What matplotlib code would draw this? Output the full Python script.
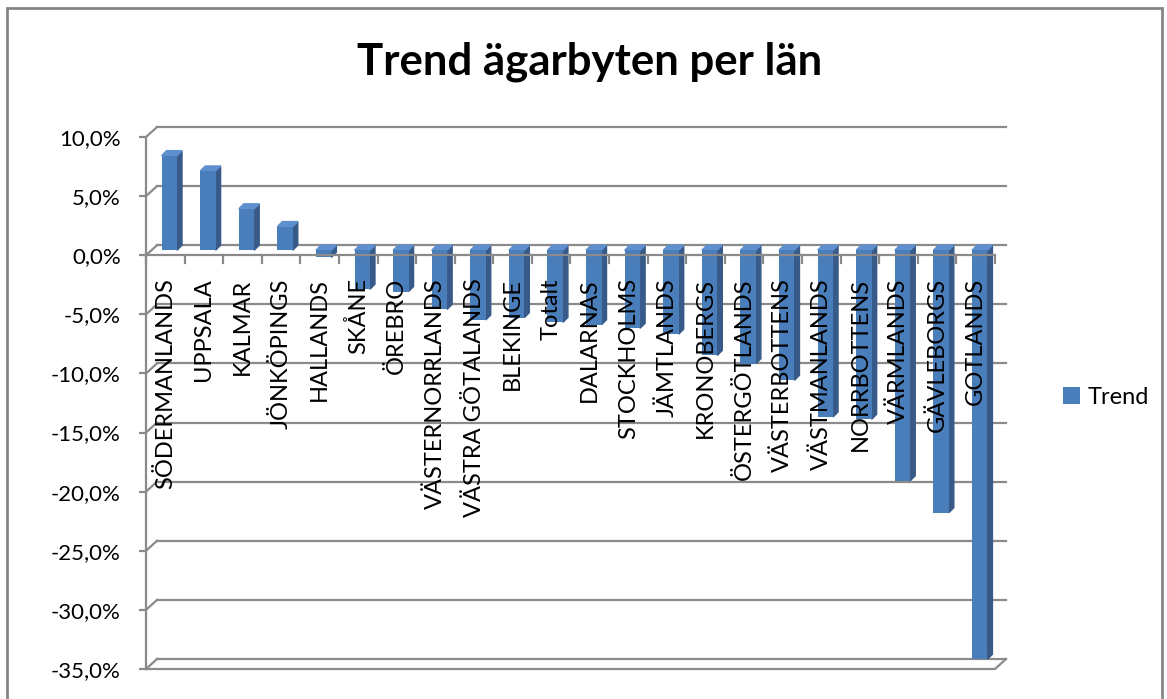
import matplotlib
matplotlib.use("Agg")
import matplotlib.pyplot as plt
from matplotlib.patches import Polygon, Rectangle
from matplotlib.ticker import FuncFormatter

plt.rcParams["font.family"] = ["Lato", "DejaVu Sans"]

lan = [
    "SÖDERMANLANDS", "UPPSALA", "KALMAR", "JÖNKÖPINGS", "HALLANDS", "SKÅNE",
    "ÖREBRO", "VÄSTERNORRLANDS", "VÄSTRA GÖTALANDS", "BLEKINGE", "Totalt",
    "DALARNAS", "STOCKHOLMS", "JÄMTLANDS", "KRONOBERGS", "ÖSTERGÖTLANDS",
    "VÄSTERBOTTENS", "VÄSTMANLANDS", "NORRBOTTENS", "VÄRMLANDS", "GÄVLEBORGS",
    "GOTLANDS",
]
trend = [
    8.0, 6.7, 3.5, 2.0, -0.6, -3.3,
    -3.5, -5.0, -5.9, -5.7, -6.1,
    -6.3, -6.6, -7.1, -8.9, -9.6,
    -11.0, -14.1, -14.3, -19.5, -22.2,
    -34.6,
]
y_ticks = [10, 5, 0, -5, -10, -15, -20, -25, -30, -35]

W, H = 1167, 699
fig = plt.figure(figsize=(W / 100, H / 100), dpi=100)
fig.patch.set_facecolor("white")

# plot area (front plane) in pixels
x0_px, x1_px, ytop_px, ybot_px = 146, 995, 137, 669
ax = fig.add_axes([x0_px / W, 1 - ybot_px / H, (x1_px - x0_px) / W, (ybot_px - ytop_px) / H])
n = len(lan)
ax.set_xlim(-0.5, n - 0.5)
ax.set_ylim(-35, 10)

# pixel -> data units (for the fake 3D depth)
ux = (x1_px - x0_px) / n
uy = (ybot_px - ytop_px) / 45.0
grid_c = "#8A8A8A"
lw = 1.6
dx_back, dy_back = 11 / ux, 10 / uy      # back wall offset
dx_bar, dy_bar = 4 / ux, 5 / uy          # bar front face offset
dx_side, dy_side = 5 / ux, 5 / uy        # bar depth

for s in ["top", "right", "bottom"]:
    ax.spines[s].set_visible(False)
ax.spines["left"].set_color(grid_c)
ax.spines["left"].set_linewidth(lw)
ax.set_yticks(y_ticks)
ax.yaxis.set_major_formatter(FuncFormatter(lambda v, p: f"{v:.1f}%".replace(".", ",")))
ax.tick_params(axis="y", length=5, width=lw, color=grid_c, labelsize=16, pad=13)
ax.set_xticks([])

# back gridlines and diagonal connectors
for yv in y_ticks:
    ax.plot([-0.5 + dx_back, n - 0.5 + dx_back], [yv + dy_back, yv + dy_back],
            color=grid_c, lw=lw, zorder=1, clip_on=False)
    ax.plot([-0.5, -0.5 + dx_back], [yv, yv + dy_back],
            color=grid_c, lw=lw, zorder=1, clip_on=False)

# floor at the bottom
ax.plot([-0.5, n - 0.5, n - 0.5 + dx_back], [-35, -35, -35 + dy_back],
        color=grid_c, lw=lw, zorder=1, clip_on=False)

# bars with side and top faces
front_c, side_c, top_c = "#4A7EBB", "#375A88", "#5E8FCF"
xs = list(range(n))
bw = 0.4
bars = ax.bar([x + dx_bar for x in xs], trend, width=bw, bottom=0,
              color=front_c, zorder=3, label="Trend")
for b in bars:
    b.set_y(b.get_y() + dy_bar)
for x, v in zip(xs, trend):
    lo, hi = min(0, v) + dy_bar, max(0, v) + dy_bar
    xl, xr = x + dx_bar - bw / 2, x + dx_bar + bw / 2
    ax.add_patch(Polygon([(xr, lo), (xr + dx_side, lo + dy_side), (xr + dx_side, hi + dy_side), (xr, hi)],
                         closed=True, color=side_c, zorder=2.9, clip_on=False))
    ax.add_patch(Polygon([(xl, hi), (xl + dx_side, hi + dy_side), (xr + dx_side, hi + dy_side), (xr, hi)],
                         closed=True, color=top_c, zorder=2.9, clip_on=False))

# zero line with category ticks (in front of bars)
ax.plot([-0.5, n - 0.5], [0, 0], color=grid_c, lw=lw, zorder=4, clip_on=False)
for i in range(n + 1):
    ax.plot([-0.5 + i, -0.5 + i], [0, -8 / uy], color=grid_c, lw=lw, zorder=4, clip_on=False)

# category labels
for x, name in zip(xs, lan):
    ax.annotate(name, (x, 0), xytext=(0, -23), textcoords="offset pixels",
                rotation=90, ha="center", va="top", fontsize=17, zorder=5)

fig.text(0.505, 1 - 62 / H, "Trend ägarbyten per län", ha="center", va="center",
         fontsize=31.5, fontweight="bold")

fig.legend(handles=[bars], labels=["Trend"], loc="center left",
           bbox_to_anchor=(1042 / W, 1 - 397 / H), frameon=False, fontsize=17,
           handlelength=0.7, handleheight=0.7, handletextpad=0.35)

# chart border
fig.patches.append(Rectangle((7 / W, -0.05), 1155 / W, 1.05 - 8 / H, transform=fig.transFigure,
                             fill=False, edgecolor="#868686", lw=2))

fig.savefig("out.png", dpi=100)
